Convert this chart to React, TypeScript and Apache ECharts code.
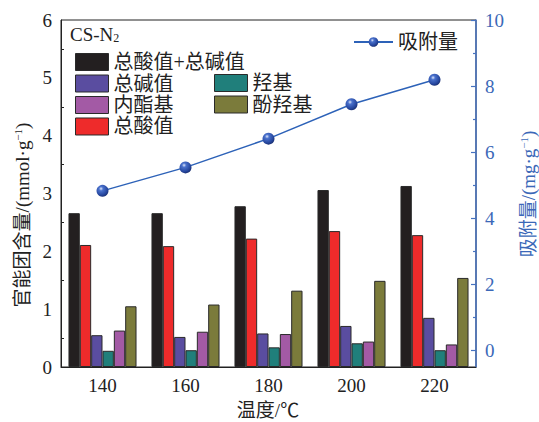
import React, { useEffect, useRef } from "react";
import * as echarts from "echarts";

// Temperatures (°C)
const categories = ["140", "160", "180", "200", "220"];
// Functional group contents (mmol·g⁻¹)
const totalAcidBase = [2.66, 2.66, 2.78, 3.06, 3.13];
const totalAcid = [2.11, 2.09, 2.22, 2.35, 2.28];
const totalBase = [0.55, 0.52, 0.58, 0.71, 0.85];
const hydroxyl = [0.28, 0.29, 0.34, 0.41, 0.29];
const lactone = [0.63, 0.61, 0.57, 0.44, 0.39];
const phenolic = [1.05, 1.08, 1.32, 1.49, 1.54];
// Adsorption capacity (mg·g⁻¹)
const adsorption = [4.83, 5.54, 6.41, 7.45, 8.19];

const leftTicks = [0, 1, 2, 3, 4, 5, 6];
const rightMajor = [0, 2, 4, 6, 8, 10];
const rightMinor = [1, 3, 5, 7, 9];

const FONT = "'Liberation Serif', 'Noto Sans CJK SC', serif";
const BLUE_AXIS = "#4672c0";
const BLUE_TEXT = "#3b68b8";
const EDGE = "#2a2a2a";

const barSeries = (name: string, data: number[], color: string) => ({
  name,
  type: "bar",
  data,
  yAxisIndex: 0,
  barGap: "0%",
  barCategoryGap: "18%",
  itemStyle: { color, borderColor: EDGE, borderWidth: 1 },
});

const sphere = {
  type: "radial",
  x: 0.38,
  y: 0.32,
  r: 0.7,
  colorStops: [
    { offset: 0, color: "#dfe7fb" },
    { offset: 0.25, color: "#4a71cc" },
    { offset: 0.75, color: "#26479f" },
    { offset: 1, color: "#1a2f72" },
  ],
};

export default function App() {
  const ref = useRef<HTMLDivElement>(null);

  useEffect(() => {
    if (!ref.current) return;
    const chart = echarts.init(ref.current, undefined, { renderer: "svg" });
    const legendText = { fontFamily: FONT, fontSize: 20, color: "#222" };
    const boxLegend = {
      orient: "vertical",
      icon: "rect",
      padding: 0,
      itemWidth: 33,
      itemHeight: 17,
      itemGap: 1.5,
      textStyle: legendText,
      itemStyle: { borderColor: EDGE, borderWidth: 1 },
    };
    chart.setOption({
      animation: false,
      textStyle: { fontFamily: FONT },
      grid: {
        left: 61,
        right: 63,
        top: 20,
        bottom: 55,
        show: true,
        borderColor: "#222",
        borderWidth: 1,
      },
      legend: [
        {
          ...boxLegend,
          data: ["总酸值+总碱值", "总碱值", "内酯基", "总酸值"],
          left: 75,
          top: 52,
        },
        {
          ...boxLegend,
          data: ["羟基", "酚羟基"],
          left: 214,
          top: 73,
        },
        {
          data: ["吸附量"],
          padding: 0,
          left: 353,
          top: 32,
          itemWidth: 39,
          itemHeight: 12,
          textStyle: legendText,
        },
      ],
      xAxis: {
        type: "category",
        data: categories,
        axisLine: { lineStyle: { color: "#222", width: 1 } },
        axisTick: { inside: true, length: 4, interval: 0, lineStyle: { color: "#222" } },
        axisLabel: { fontFamily: FONT, fontSize: 19, color: "#222", margin: 9 },
        splitLine: { show: false },
      },
      yAxis: [
        {
          type: "value",
          min: leftTicks[0],
          max: leftTicks[leftTicks.length - 1],
          interval: 1,
          axisLine: { show: true, lineStyle: { color: "#222", width: 1 } },
          axisTick: { inside: true, length: 5, lineStyle: { color: "#222" } },
          minorTick: { show: true, splitNumber: 2, length: 3, lineStyle: { color: "#222" } },
          axisLabel: { fontFamily: FONT, fontSize: 19, color: "#222", margin: 9 },
          splitLine: { show: false },
        },
        {
          type: "value",
          position: "right",
          min: -0.5,
          max: 10,
          axisLine: { show: true, lineStyle: { color: BLUE_AXIS, width: 1.5 } },
          axisTick: {
            show: true,
            inside: true,
            length: 5,
            customValues: rightMajor,
            lineStyle: { color: BLUE_AXIS, width: 1.2 },
          },
          axisLabel: {
            fontFamily: FONT,
            fontSize: 19,
            color: BLUE_TEXT,
            margin: 9,
            customValues: rightMajor,
          },
          splitLine: { show: false },
        },
        {
          type: "value",
          position: "right",
          min: -0.5,
          max: 10,
          axisLine: { show: false },
          axisTick: {
            show: true,
            inside: true,
            length: 3,
            customValues: rightMinor,
            lineStyle: { color: BLUE_AXIS, width: 1.2 },
          },
          axisLabel: { show: false },
          splitLine: { show: false },
        },
      ],
      series: [
        barSeries("总酸值+总碱值", totalAcidBase, "#231f20"),
        barSeries("总酸值", totalAcid, "#ee2b2b"),
        barSeries("总碱值", totalBase, "#5a4da0"),
        barSeries("羟基", hydroxyl, "#207f7b"),
        barSeries("内酯基", lactone, "#a35aa5"),
        barSeries("酚羟基", phenolic, "#7b7b3b"),
        {
          name: "吸附量",
          type: "line",
          data: adsorption,
          yAxisIndex: 1,
          symbol: "circle",
          symbolSize: 12,
          z: 5,
          lineStyle: { color: "#2d62b8", width: 1.5 },
          itemStyle: { color: sphere, borderWidth: 0 },
        },
      ],
      graphic: [
        {
          type: "text",
          x: 70,
          y: 24,
          style: {
            text: "CS-N{sub|2}",
            fontFamily: FONT,
            fontSize: 19,
            fill: "#222",
            rich: {
              sub: { fontFamily: FONT, fontSize: 12, fill: "#222", verticalAlign: "bottom", padding: [8, 0, 0, 0] },
            },
          },
        },
        {
          type: "text",
          x: 22,
          y: 215,
          rotation: Math.PI / 2,
          style: {
            text: "官能团含量/(mmol·g{sup|−1})",
            fontFamily: FONT,
            fontSize: 19,
            fill: "#222",
            align: "center",
            verticalAlign: "middle",
            rich: {
              sup: { fontFamily: FONT, fontSize: 11, fill: "#222", verticalAlign: "top", padding: [0, 0, 8, 0] },
            },
          },
        },
        {
          type: "text",
          x: 528,
          y: 194,
          rotation: Math.PI / 2,
          style: {
            text: "吸附量/(mg·g{sup|−1})",
            fontFamily: FONT,
            fontSize: 19,
            fill: BLUE_TEXT,
            align: "center",
            verticalAlign: "middle",
            rich: {
              sup: { fontFamily: FONT, fontSize: 11, fill: BLUE_TEXT, verticalAlign: "top", padding: [0, 0, 8, 0] },
            },
          },
        },
        {
          type: "text",
          x: 268,
          y: 410,
          style: {
            text: "温度/℃",
            fontFamily: FONT,
            fontSize: 19,
            fill: "#222",
            align: "center",
            verticalAlign: "middle",
          },
        },
      ],
    });
    return () => chart.dispose();
  }, []);

  return (
    <div
      ref={ref}
      style={{ position: "fixed", left: 0, top: 0, width: 539, height: 422, background: "#fff" }}
    />
  );
}
